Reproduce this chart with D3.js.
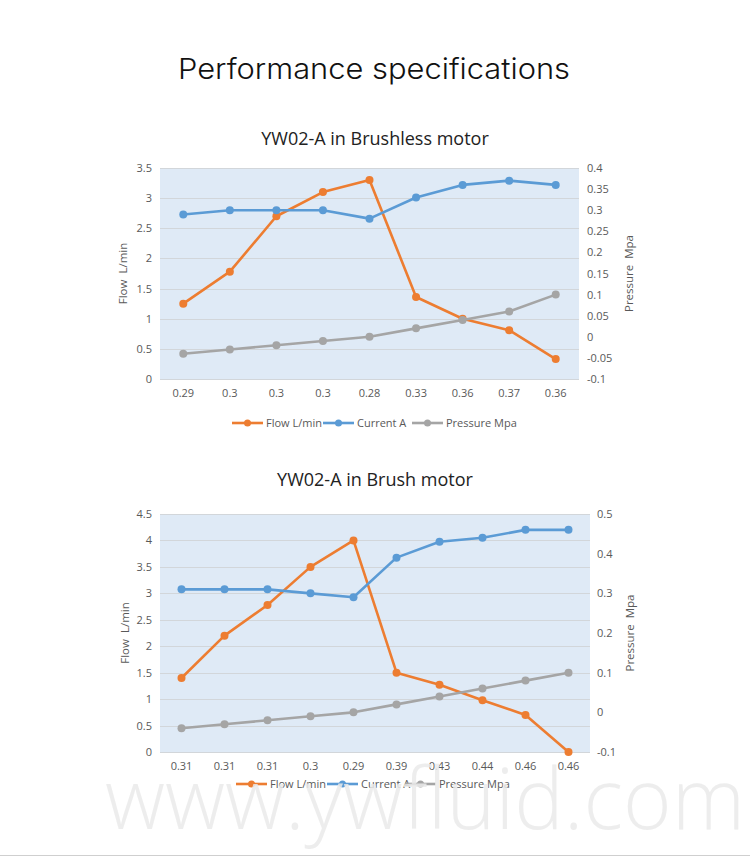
<!DOCTYPE html>
<html>
<head>
<meta charset="utf-8">
<script src="https://cdn.jsdelivr.net/npm/d3@7"></script>
<style>
  html, body { margin: 0; padding: 0; background: #ffffff; }
  svg { display: block; }
</style>
</head>
<body>
<svg id="chart" width="750" height="857"></svg>
<script>
// ---------- DATA ----------
const pageTitle = "Performance specifications";
const seriesNames = ["Flow L/min", "Current A", "Pressure Mpa"];

// Chart 1: YW02-A in Brushless motor
const title1 = "YW02-A in Brushless motor";
const categories1 = ["0.29", "0.3", "0.3", "0.3", "0.28", "0.33", "0.36", "0.37", "0.36"];
const flow1 = [1.25, 1.78, 2.7, 3.1, 3.3, 1.36, 1.0, 0.81, 0.33];
const current1 = [0.29, 0.30, 0.30, 0.30, 0.28, 0.33, 0.36, 0.37, 0.36];
const pressure1 = [-0.04, -0.03, -0.02, -0.01, 0.0, 0.02, 0.04, 0.06, 0.10];
const leftTicks1 = [0, 0.5, 1, 1.5, 2, 2.5, 3, 3.5];
const rightTicks1 = [-0.1, -0.05, 0, 0.05, 0.1, 0.15, 0.2, 0.25, 0.3, 0.35, 0.4];

// Chart 2: YW02-A in Brush motor
const title2 = "YW02-A in Brush motor";
const categories2 = ["0.31", "0.31", "0.31", "0.3", "0.29", "0.39", "0.43", "0.44", "0.46", "0.46"];
const flow2 = [1.4, 2.2, 2.78, 3.5, 4.0, 1.5, 1.27, 0.98, 0.7, 0.0];
const current2 = [0.31, 0.31, 0.31, 0.30, 0.29, 0.39, 0.43, 0.44, 0.46, 0.46];
const pressure2 = [-0.04, -0.03, -0.02, -0.01, 0.0, 0.02, 0.04, 0.06, 0.08, 0.10];
const leftTicks2 = [0, 0.5, 1, 1.5, 2, 2.5, 3, 3.5, 4, 4.5];
const rightTicks2 = [-0.1, 0, 0.1, 0.2, 0.3, 0.4, 0.5];

const watermark = "www.ywfluid.com";

// ---------- STYLE ----------
const colors = ["#ed7d31", "#5b9bd5", "#a5a5a5"];
const tickFont = "'Open Sans', 'Noto Sans', sans-serif";
const svg = d3.select("#chart");

svg.append("text")
  .attr("x", 374).attr("y", 79)
  .attr("text-anchor", "middle")
  .attr("font-family", "Inter, Lato, 'Open Sans', sans-serif")
  .attr("font-weight", 300)
  .attr("font-size", 28.5)
  .attr("fill", "#111")
  .attr("textLength", 392)
  .attr("lengthAdjust", "spacingAndGlyphs")
  .text(pageTitle);

function drawChart(cfg) {
  const g = svg.append("g");
  const x = d3.scaleBand().domain(d3.range(cfg.categories.length)).range([cfg.x0, cfg.x1]);
  const yL = d3.scaleLinear().domain([cfg.leftTicks[0], cfg.leftTicks[cfg.leftTicks.length - 1]]).range([cfg.y1, cfg.y0]);
  const yR = d3.scaleLinear().domain([cfg.rightTicks[0], cfg.rightTicks[cfg.rightTicks.length - 1]]).range([cfg.y1, cfg.y0]);

  // title
  g.append("text")
    .attr("x", cfg.titleX).attr("y", cfg.titleY)
    .attr("text-anchor", "middle")
    .attr("font-family", "'Open Sans', 'Noto Sans', sans-serif")
    .attr("font-size", 18)
    .attr("fill", "#222")
    .text(cfg.title);

  // plot background
  g.append("rect")
    .attr("x", cfg.x0).attr("y", cfg.y0)
    .attr("width", cfg.x1 - cfg.x0).attr("height", cfg.y1 - cfg.y0)
    .attr("fill", "#dfeaf6");

  // gridlines
  g.append("g").selectAll("line").data(cfg.leftTicks).join("line")
    .attr("x1", cfg.x0).attr("x2", cfg.x1)
    .attr("y1", d => Math.round(yL(d)) + 0.5).attr("y2", d => Math.round(yL(d)) + 0.5)
    .attr("stroke", "#d2d6da").attr("stroke-width", 1);

  // left axis
  const leftAxis = d3.axisLeft(yL).tickValues(cfg.leftTicks).tickSize(0).tickPadding(8)
    .tickFormat(d => String(d));
  const la = g.append("g").attr("transform", `translate(${cfg.x0},0)`).call(leftAxis);
  la.select(".domain").remove();
  la.selectAll("text").attr("font-family", tickFont).attr("font-size", 11).attr("fill", "#595959");

  // right axis
  const rightAxis = d3.axisRight(yR).tickValues(cfg.rightTicks).tickSize(0).tickPadding(cfg.rightPad)
    .tickFormat(d => String(+d.toFixed(2)));
  const ra = g.append("g").attr("transform", `translate(${cfg.x1},0)`).call(rightAxis);
  ra.select(".domain").remove();
  ra.selectAll("text").attr("font-family", tickFont).attr("font-size", 11).attr("fill", "#595959");

  // bottom axis
  const bottomAxis = d3.axisBottom(x).tickSize(0).tickPadding(10).tickFormat(i => cfg.categories[i]);
  const ba = g.append("g").attr("transform", `translate(0,${cfg.y1})`).call(bottomAxis);
  ba.select(".domain").remove();
  ba.selectAll("text").attr("font-family", tickFont).attr("font-size", 11).attr("fill", "#595959");

  // axis titles
  g.append("text")
    .attr("transform", `translate(${cfg.leftTitleX},${(cfg.y0 + cfg.y1) / 2}) rotate(-90)`)
    .attr("text-anchor", "middle")
    .attr("font-family", tickFont).attr("font-size", 11.5).attr("fill", "#595959")
    .attr("xml:space", "preserve")
    .text("Flow  L/min");
  g.append("text")
    .attr("transform", `translate(${cfg.rightTitleX},${(cfg.y0 + cfg.y1) / 2}) rotate(-90)`)
    .attr("text-anchor", "middle")
    .attr("font-family", tickFont).attr("font-size", 11.5).attr("fill", "#595959")
    .attr("xml:space", "preserve")
    .text("Pressure  Mpa");

  // series
  const series = [
    { vals: cfg.flow, y: yL, c: colors[0] },
    { vals: cfg.current, y: yR, c: colors[1] },
    { vals: cfg.pressure, y: yR, c: colors[2] }
  ];
  const cx = i => x(i) + x.bandwidth() / 2;
  series.forEach(s => {
    const line = d3.line().x((d, i) => cx(i)).y(d => s.y(d));
    g.append("path").datum(s.vals)
      .attr("d", line).attr("fill", "none")
      .attr("stroke", s.c).attr("stroke-width", 2.6).attr("stroke-linejoin", "round");
    g.append("g").selectAll("circle").data(s.vals).join("circle")
      .attr("cx", (d, i) => cx(i)).attr("cy", d => s.y(d)).attr("r", 4)
      .attr("fill", s.c);
  });

  // legend
  const lg = g.append("g");
  cfg.legendX.forEach((lx, k) => {
    lg.append("line")
      .attr("x1", lx).attr("x2", lx + 31)
      .attr("y1", cfg.legendY).attr("y2", cfg.legendY)
      .attr("stroke", colors[k]).attr("stroke-width", 2.6);
    lg.append("circle").attr("cx", lx + 15.5).attr("cy", cfg.legendY).attr("r", 3.5).attr("fill", colors[k]);
    lg.append("text")
      .attr("x", lx + 34).attr("y", cfg.legendY + 4)
      .attr("font-family", tickFont).attr("font-size", 11).attr("fill", "#595959")
      .text(seriesNames[k]);
  });
}

drawChart({
  title: title1, titleX: 375, titleY: 145,
  categories: categories1, flow: flow1, current: current1, pressure: pressure1,
  leftTicks: leftTicks1, rightTicks: rightTicks1,
  x0: 160, x1: 579, y0: 168, y1: 379, rightPad: 8,
  leftTitleX: 127, rightTitleX: 633,
  legendX: [232, 323, 412], legendY: 423
});

drawChart({
  title: title2, titleX: 375, titleY: 486,
  categories: categories2, flow: flow2, current: current2, pressure: pressure2,
  leftTicks: leftTicks2, rightTicks: rightTicks2,
  x0: 160, x1: 590, y0: 514, y1: 752, rightPad: 7,
  leftTitleX: 129, rightTitleX: 634,
  legendX: [236, 327, 405], legendY: 784
});

// watermark
svg.append("text")
  .attr("x", 105).attr("y", 829)
  .attr("font-family", "'Open Sans', sans-serif")
  .attr("font-weight", 300)
  .attr("font-size", 84)
  .attr("fill", "#eaeaea")
  .attr("fill-opacity", 0.85)
  .attr("textLength", 640)
  .attr("lengthAdjust", "spacingAndGlyphs")
  .text(watermark);

// bottom rule
svg.append("line")
  .attr("x1", 0).attr("x2", 750).attr("y1", 855.5).attr("y2", 855.5)
  .attr("stroke", "#cfcfcf").attr("stroke-width", 1);
</script>
</body>
</html>
